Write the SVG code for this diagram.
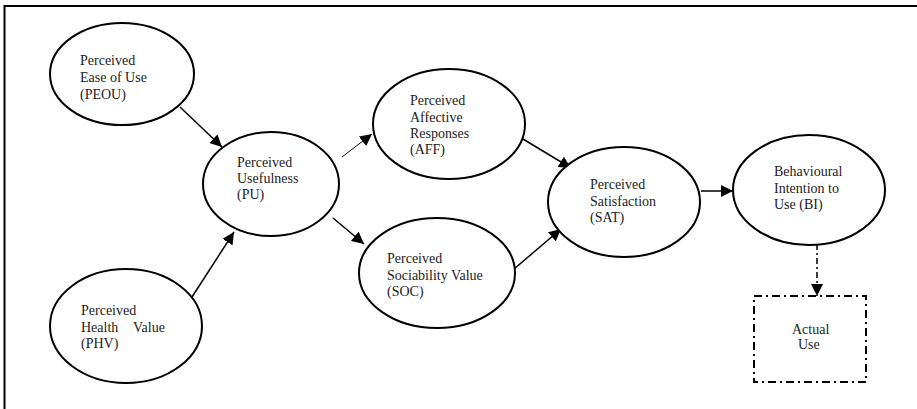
<svg xmlns="http://www.w3.org/2000/svg" width="917" height="409" viewBox="0 0 917 409">
<style>
.n{fill:#fff;stroke:#000;stroke-width:2}
.t{font-family:"Liberation Serif","Times New Roman",serif;font-size:14px;fill:#222}
.c{stroke:#000;stroke-width:1.5;fill:none}
.thin{stroke-width:1}
.dd{stroke-dasharray:6,3,2,3}
</style>
<defs>
<marker id="ah" viewBox="0 0 10 10" refX="10" refY="5" markerWidth="10" markerHeight="10" markerUnits="userSpaceOnUse" orient="auto">
<path d="M0,0 L10,5 L0,10 z" fill="#000"/>
</marker>
<marker id="ah2" viewBox="0 0 10 10" refX="10" refY="5" markerWidth="12" markerHeight="12" markerUnits="userSpaceOnUse" orient="auto">
<path d="M0,0 L10,5 L0,10 z" fill="#000"/>
</marker>
</defs>
<rect width="917" height="409" fill="#fff"/>
<g id="frame"><path d="M4.5,409 V6 H917" fill="none" stroke="#000" stroke-width="2"/></g>
<g id="connectors">
<line class="c" x1="180" y1="107" x2="222" y2="147" marker-end="url(#ah2)"/>
<line class="c" x1="192" y1="297" x2="234" y2="232" marker-end="url(#ah2)"/>
<line class="c thin" x1="342" y1="157" x2="372" y2="134" marker-end="url(#ah2)"/>
<line class="c" x1="333" y1="218" x2="364" y2="244" marker-end="url(#ah2)"/>
<line class="c" x1="523" y1="139" x2="571" y2="168" marker-end="url(#ah2)"/>
<line class="c" x1="514" y1="269" x2="561" y2="229" marker-end="url(#ah2)"/>
<line class="c" x1="701" y1="191" x2="733" y2="191" marker-end="url(#ah2)"/>
<line class="c dd" x1="817" y1="244" x2="817" y2="296" marker-end="url(#ah2)"/>
</g>
<g id="PEOU"><ellipse class="n" cx="122" cy="74" rx="72" ry="51"/>
<text class="t" x="80" y="65">Perceived</text><text class="t" x="80" y="82">Ease of Use</text><text class="t" x="80" y="99">(PEOU)</text></g>
<g id="PU"><ellipse class="n" cx="271" cy="184" rx="68" ry="52"/>
<text class="t" x="237" y="167">Perceived</text><text class="t" x="237" y="183">Usefulness</text><text class="t" x="237" y="199">(PU)</text></g>
<g id="PHV"><ellipse class="n" cx="126" cy="326" rx="76" ry="57"/>
<text class="t" x="81" y="315">Perceived</text><text class="t" x="81" y="332">Health</text><text class="t" x="133" y="332">Value</text><text class="t" x="81" y="348">(PHV)</text></g>
<g id="AFF"><ellipse class="n" cx="449" cy="124" rx="76" ry="55"/>
<text class="t" x="410" y="105">Perceived</text><text class="t" x="410" y="122">Affective</text><text class="t" x="410" y="138">Responses</text><text class="t" x="410" y="154">(AFF)</text></g>
<g id="SOC"><ellipse class="n" cx="437" cy="273" rx="78" ry="55"/>
<text class="t" x="387" y="263">Perceived</text><text class="t" x="387" y="280">Sociability Value</text><text class="t" x="387" y="296">(SOC)</text></g>
<g id="SAT"><ellipse class="n" cx="624" cy="202" rx="76" ry="55"/>
<text class="t" x="590" y="189">Perceived</text><text class="t" x="590" y="206">Satisfaction</text><text class="t" x="590" y="222">(SAT)</text></g>
<g id="BI"><ellipse class="n" cx="809" cy="190" rx="76" ry="55"/>
<text class="t" x="774" y="176">Behavioural</text><text class="t" x="774" y="193">Intention to</text><text class="t" x="774" y="209">Use (BI)</text></g>
<g id="ACT"><rect x="754" y="296" width="112" height="86" fill="#fff" stroke="#000" stroke-width="2" stroke-dasharray="8,4,2,4"/>
<text class="t" x="792" y="334">Actual</text><text class="t" x="798" y="349">Use</text></g>
</svg>
